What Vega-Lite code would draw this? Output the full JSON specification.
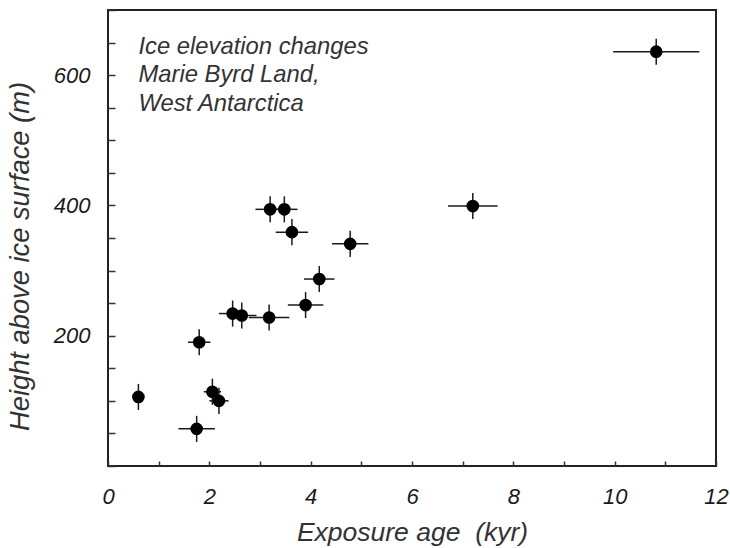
{
  "$schema": "https://vega.github.io/schema/vega-lite/v6.json",
  "width": 608,
  "height": 456,
  "autosize": {"type": "none"},
  "padding": {"left": 108, "top": 10, "right": 14, "bottom": 82},
  "background": "white",
  "config": {
    "view": {"stroke": "#222222", "strokeWidth": 2},
    "font": "Liberation Sans"
  },
  "datasets": {
    "pts": [
      {"age": 0.60, "age_lo": 0.50, "age_hi": 0.70, "h": 106, "h_lo": 86, "h_hi": 126},
      {"age": 1.80, "age_lo": 1.58, "age_hi": 2.02, "h": 190, "h_lo": 170, "h_hi": 210},
      {"age": 2.06, "age_lo": 1.89, "age_hi": 2.23, "h": 114, "h_lo": 94, "h_hi": 134},
      {"age": 2.19, "age_lo": 2.00, "age_hi": 2.38, "h": 100, "h_lo": 80, "h_hi": 120},
      {"age": 1.75, "age_lo": 1.39, "age_hi": 2.11, "h": 57, "h_lo": 37, "h_hi": 77},
      {"age": 3.20, "age_lo": 2.91, "age_hi": 3.49, "h": 394, "h_lo": 374, "h_hi": 414},
      {"age": 3.48, "age_lo": 3.22, "age_hi": 3.74, "h": 394, "h_lo": 374, "h_hi": 414},
      {"age": 3.63, "age_lo": 3.31, "age_hi": 3.95, "h": 359, "h_lo": 339, "h_hi": 379},
      {"age": 4.78, "age_lo": 4.42, "age_hi": 5.14, "h": 341, "h_lo": 321, "h_hi": 361},
      {"age": 4.17, "age_lo": 3.87, "age_hi": 4.47, "h": 287, "h_lo": 267, "h_hi": 307},
      {"age": 3.90, "age_lo": 3.55, "age_hi": 4.25, "h": 247, "h_lo": 227, "h_hi": 267},
      {"age": 2.46, "age_lo": 2.19, "age_hi": 2.73, "h": 234, "h_lo": 214, "h_hi": 254},
      {"age": 2.64, "age_lo": 2.35, "age_hi": 2.93, "h": 231, "h_lo": 211, "h_hi": 251},
      {"age": 3.18, "age_lo": 2.78, "age_hi": 3.58, "h": 228, "h_lo": 208, "h_hi": 248},
      {"age": 7.20, "age_lo": 6.71, "age_hi": 7.69, "h": 399, "h_lo": 379, "h_hi": 419},
      {"age": 10.82, "age_lo": 9.97, "age_hi": 11.67, "h": 636, "h_lo": 616, "h_hi": 656}
    ],
    "notes": [
      {"x": 0.6, "y": 632, "t": "Ice elevation changes"},
      {"x": 0.6, "y": 589, "t": "Marie Byrd Land,"},
      {"x": 0.6, "y": 545, "t": "West Antarctica"}
    ]
  },
  "layer": [
    {
      "data": {"name": "pts"},
      "mark": {"type": "rule", "color": "#1a1a1a", "strokeWidth": 1.5},
      "encoding": {
        "x": {
          "field": "age_lo", "type": "quantitative",
          "scale": {"domain": [0, 12], "nice": false, "zero": false},
          "axis": {
            "tickCount": 12,
            "labelExpr": "datum.value % 2 == 0 ? datum.label : ''",
            "domain": false,
            "grid": false,
            "offset": -5,
            "tickSize": 5,
            "tickColor": "#333333",
            "tickWidth": 1.5,
            "labelPadding": 20,
            "labelFlush": false,
            "labelOverlap": false,
            "labelFontSize": 22,
            "labelFontStyle": "italic",
            "labelColor": "#1a1a1a",
            "title": "Exposure age \u00a0(kyr)",
            "titleFontSize": 26.5,
            "titleFontStyle": "italic",
            "titleFontWeight": "normal",
            "titleColor": "#333333",
            "titleBaseline": "alphabetic",
            "titleY": 79
          }
        },
        "x2": {"field": "age_hi"},
        "y": {
          "field": "h", "type": "quantitative",
          "scale": {"domain": [0, 700], "nice": false, "zero": false},
          "axis": {
            "tickCount": 14,
            "labelExpr": "datum.value == 200 || datum.value == 400 || datum.value == 600 ? datum.label : ''",
            "domain": false,
            "grid": false,
            "offset": -7,
            "tickSize": 7,
            "tickColor": "#333333",
            "tickWidth": 1.5,
            "labelPadding": 18,
            "labelOverlap": false,
            "labelFontSize": 22,
            "labelFontStyle": "italic",
            "labelColor": "#1a1a1a",
            "title": "Height above ice surface (m)",
            "titleFontSize": 27.3,
            "titleFontStyle": "italic",
            "titleFontWeight": "normal",
            "titleColor": "#333333",
            "titleBaseline": "middle",
            "titleX": -95,
            "titleY": 246
          }
        }
      }
    },
    {
      "data": {"name": "pts"},
      "mark": {"type": "rule", "color": "#1a1a1a", "strokeWidth": 1.5},
      "encoding": {
        "x": {"field": "age", "type": "quantitative"},
        "y": {"field": "h_lo", "type": "quantitative"},
        "y2": {"field": "h_hi"}
      }
    },
    {
      "data": {"name": "pts"},
      "mark": {"type": "circle", "size": 160, "color": "black", "opacity": 1},
      "encoding": {
        "x": {"field": "age", "type": "quantitative"},
        "y": {"field": "h", "type": "quantitative"}
      }
    },
    {
      "data": {"name": "notes"},
      "mark": {"type": "text", "align": "left", "baseline": "alphabetic", "fontSize": 23.8, "fontStyle": "italic", "color": "#333333"},
      "encoding": {
        "x": {"field": "x", "type": "quantitative"},
        "y": {"field": "y", "type": "quantitative"},
        "text": {"field": "t"}
      }
    }
  ]
}
